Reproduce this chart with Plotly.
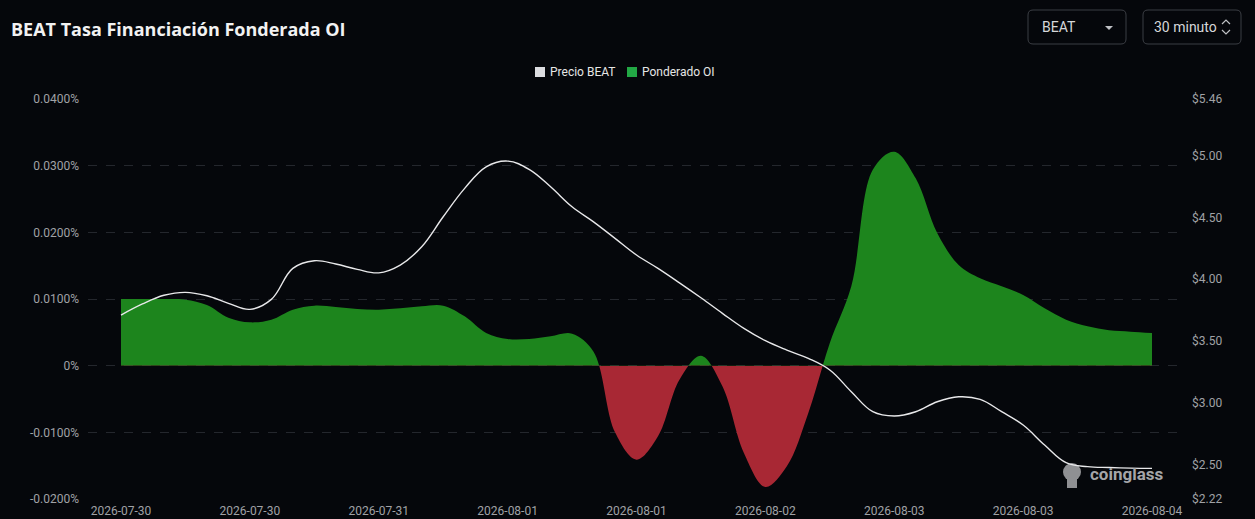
import plotly.graph_objects as go

# 30 minute candles, sampled along the chart (index positions)
idx = list(range(49))
tick_pos = [0, 6, 12, 18, 24, 30, 36, 42, 48]
tick_labels = ['2026-07-30', '2026-07-30', '2026-07-31', '2026-08-01', '2026-08-01',
               '2026-08-02', '2026-08-03', '2026-08-03', '2026-08-04']

# OI weighted funding rate (in %)
funding = [0.0100, 0.0100, 0.0100, 0.0099, 0.0091, 0.0072, 0.0065, 0.0069, 0.0084, 0.0090,
           0.0088, 0.0085, 0.0084, 0.0086, 0.0089, 0.0090, 0.0074, 0.0049, 0.0040, 0.0040,
           0.0044, 0.0048, 0.0021, -0.0100, -0.0141, -0.0106, -0.0021, 0.0015, -0.0031, -0.0131,
           -0.0182, -0.0151, -0.0071, 0.0034, 0.0119, 0.0294, 0.0321, 0.0281, 0.0199, 0.0151,
           0.0131, 0.0119, 0.0106, 0.0086, 0.0069, 0.0059, 0.0053, 0.0051, 0.0049]

# BEAT price (USD)
price = [3.71, 3.80, 3.87, 3.894, 3.866, 3.805, 3.756, 3.837, 4.088, 4.15,
         4.123, 4.08, 4.052, 4.115, 4.263, 4.506, 4.736, 4.911, 4.957, 4.89,
         4.749, 4.587, 4.465, 4.331, 4.196, 4.088, 3.971, 3.85, 3.724, 3.602,
         3.502, 3.426, 3.359, 3.265, 3.089, 2.927, 2.892, 2.927, 3.008, 3.048,
         3.027, 2.927, 2.819, 2.657, 2.514, 2.482, 2.475, 2.47, 2.468]

left_ticks = [0.04, 0.03, 0.02, 0.01, 0, -0.01, -0.02]
left_text = ['0.0400%', '0.0300%', '0.0200%', '0.0100%', '0%', '-0.0100%', '-0.0200%']
right_ticks = [5.46, 5.0, 4.5, 4.0, 3.5, 3.0, 2.5, 2.22]
right_text = ['$5.46', '$5.00', '$4.50', '$4.00', '$3.50', '$3.00', '$2.50', '$2.22']

BG = '#05070b'
GREEN = '#1d851d'
RED = '#a82834'
TXT = '#a0a2a6'

f_lo, f_hi = -0.02, 0.04
zero_frac = (0 - f_lo) / (f_hi - f_lo)

fig = go.Figure()
# empty trace so the left axis (ticks + grid) is drawn
fig.add_trace(go.Scatter(x=[None], y=[None], yaxis='y', showlegend=False, hoverinfo='skip'))
# the same curve twice: the upper axis keeps the positive part, the lower one the negative part
fig.add_trace(go.Scatter(x=idx, y=funding, yaxis='y3', mode='lines',
                         line=dict(width=0, shape='spline', color=GREEN),
                         fill='tozeroy', fillcolor=GREEN, showlegend=False))
fig.add_trace(go.Scatter(x=idx, y=funding, yaxis='y4', mode='lines',
                         line=dict(width=0, shape='spline', color=RED),
                         fill='tozeroy', fillcolor=RED, showlegend=False))
fig.add_trace(go.Scatter(x=idx, y=price, yaxis='y5', mode='lines',
                         line=dict(color='#e8e8ea', width=1.4, shape='spline', smoothing=1.1),
                         showlegend=False))

# plot area in pixels
L, R, T, B = 88, 1183, 99, 499
W, H = 1255, 519
x0_px, step = 121, (1152 - 121) / 48


def px(x):
    return (x - L) / (R - L)


def py(y):
    return (B - y) / (B - T)


def rrect(xa, ya, xb, yb, r=5):
    rx, ry = r / (R - L), r / (B - T)
    a, b, c, d = px(xa), px(xb), py(ya), py(yb)
    return (f'M {a+rx},{c} L {b-rx},{c} Q {b},{c} {b},{c-ry} L {b},{d+ry} Q {b},{d} {b-rx},{d} '
            f'L {a+rx},{d} Q {a},{d} {a},{d+ry} L {a},{c-ry} Q {a},{c} {a+rx},{c} Z')


def box(xa, ya, xb, yb, color):
    return dict(type='rect', xref='paper', yref='paper', x0=px(xa), x1=px(xb), y0=py(yb), y1=py(ya),
                fillcolor=color, line=dict(width=0), layer='above')


shapes = [
    dict(type='path', xref='paper', yref='paper', path=rrect(1028, 10, 1126, 44),
         line=dict(color='#3b3e44', width=1)),
    dict(type='path', xref='paper', yref='paper', path=rrect(1143, 10, 1241, 44),
         line=dict(color='#3b3e44', width=1)),
    # caret of first select
    dict(type='path', xref='paper', yref='paper',
         path=f'M {px(1105)},{py(26)} L {px(1113)},{py(26)} L {px(1109)},{py(30)} Z',
         fillcolor='#bfc1c5', line=dict(width=0)),
    # up/down chevrons of second select
    dict(type='path', xref='paper', yref='paper',
         path=f'M {px(1222)},{py(24)} L {px(1226)},{py(20)} L {px(1230)},{py(24)}',
         line=dict(color='#bfc1c5', width=1.2)),
    dict(type='path', xref='paper', yref='paper',
         path=f'M {px(1222)},{py(30)} L {px(1226)},{py(34)} L {px(1230)},{py(30)}',
         line=dict(color='#bfc1c5', width=1.2)),
    # legend swatches
    box(535, 67, 545, 77, '#dcdde0'),
    box(627, 67, 637, 77, '#22a845'),
    # watermark logo
    dict(type='circle', xref='paper', yref='paper', x0=px(1063), x1=px(1081), y0=py(481), y1=py(463),
         fillcolor='#8f9093', line=dict(width=0), layer='below'),
    dict(type='rect', xref='paper', yref='paper', x0=px(1067), x1=px(1077), y0=py(488), y1=py(476),
         fillcolor='#8f9093', line=dict(width=0), layer='below'),
]

annotations = [
    dict(text='<b>BEAT Tasa Financiación Fonderada OI</b>', xref='paper', yref='paper',
         x=px(9), y=py(29), xanchor='left', yanchor='middle', showarrow=False,
         font=dict(family='Open Sans', size=18, color='#f2f2f2')),
    dict(text='BEAT', xref='paper', yref='paper', x=px(1040), y=py(27), xanchor='left',
         yanchor='middle', showarrow=False, font=dict(family='Roboto', size=14, color='#d6d7da')),
    dict(text='30 minuto', xref='paper', yref='paper', x=px(1152), y=py(27), xanchor='left',
         yanchor='middle', showarrow=False, font=dict(family='Roboto', size=14, color='#d6d7da')),
    dict(text='Precio BEAT', xref='paper', yref='paper', x=px(548), y=py(72), xanchor='left',
         yanchor='middle', showarrow=False, font=dict(family='Roboto', size=12, color='#e6e6e6')),
    dict(text='Ponderado OI', xref='paper', yref='paper', x=px(640), y=py(72), xanchor='left',
         yanchor='middle', showarrow=False, font=dict(family='Roboto', size=12, color='#e6e6e6')),
    dict(text='<b>coinglass</b>', xref='paper', yref='paper', x=px(1088), y=py(474), xanchor='left',
         yanchor='middle', showarrow=False, font=dict(family='Roboto', size=17, color='#a4a5a8')),
]

hidden = dict(visible=False, showgrid=False, zeroline=False, anchor='x', fixedrange=True)

fig.update_layout(
    width=W, height=H,
    paper_bgcolor=BG, plot_bgcolor='rgba(0,0,0,0)',
    margin=dict(l=L, r=W - R, t=T, b=H - B),
    font=dict(family='Roboto', size=12, color=TXT),
    showlegend=False,
    xaxis=dict(range=[(L - x0_px) / step, (R - x0_px) / step], tickvals=tick_pos, ticktext=tick_labels,
               showgrid=False, zeroline=False, showline=False, ticks='', ticklabelstandoff=3,
               automargin=False, tickfont=dict(size=12, color=TXT)),
    yaxis=dict(range=[f_lo, f_hi], domain=[0, 1], tickvals=left_ticks, ticktext=left_text,
               showgrid=True, gridcolor='#24272d', griddash='dash', zeroline=False, ticks='',
               ticklabelstandoff=8, automargin=False, tickfont=dict(size=12, color=TXT)),
    yaxis3=dict(range=[0, f_hi], domain=[zero_frac, 1], **hidden),
    yaxis4=dict(range=[f_lo, 0], domain=[0, zero_frac], **hidden),
    yaxis5=dict(range=[2.22, 5.46], domain=[0, 1], anchor='x', side='right', tickvals=right_ticks,
                ticktext=right_text, showgrid=False, zeroline=False, ticks='', ticklabelstandoff=8,
                automargin=False, tickfont=dict(size=12, color=TXT)),
    shapes=shapes,
    annotations=annotations,
)

fig.write_html("out.html", config={'displayModeBar': False},
               post_script="document.body.style.margin='0';document.body.style.background='#05070b';")
